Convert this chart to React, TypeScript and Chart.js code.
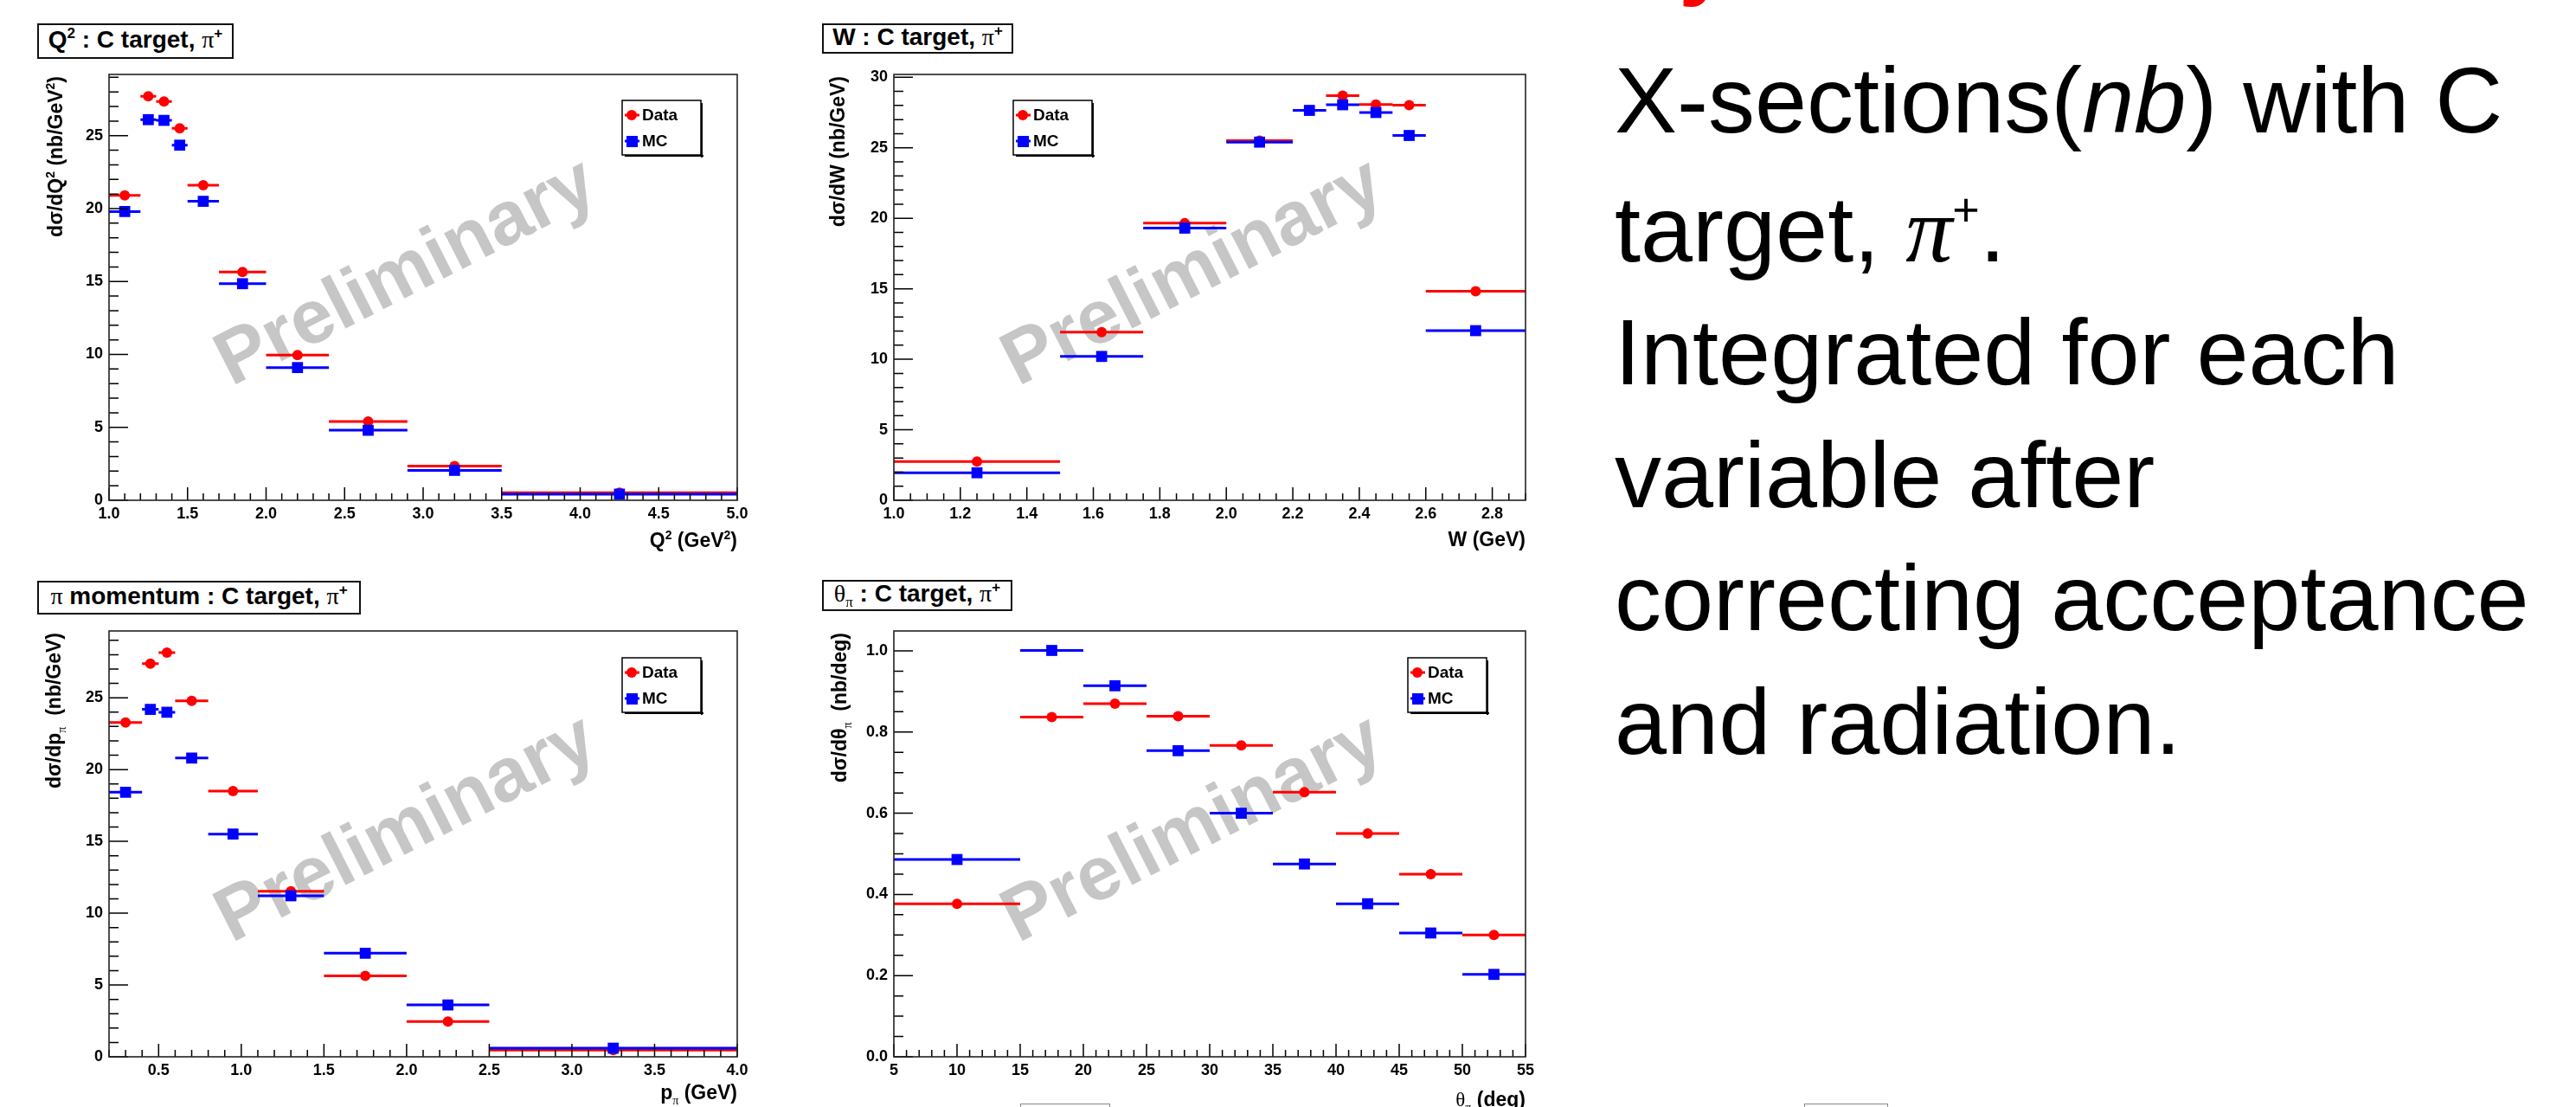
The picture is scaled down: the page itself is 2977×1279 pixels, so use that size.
import React, { useEffect, useRef } from "react";
import { Chart, registerables } from "chart.js";

Chart.register(...registerables);

const SANS = "'Liberation Sans', Arial, Helvetica, sans-serif";
const SERIF = "'Liberation Serif', 'Times New Roman', Times, serif";
const RED = "#ff0000";
const BLUE = "#0000ff";

// ---------------- data ----------------
const seriesNames = ["Data", "MC"];

const q2Edges = [1.0, 1.2, 1.3, 1.4, 1.5, 1.7, 2.0, 2.4, 2.9, 3.5, 5.0];
const q2Data = [20.9, 27.7, 27.35, 25.5, 21.6, 15.65, 9.95, 5.4, 2.35, 0.52];
const q2MC = [19.8, 26.1, 26.05, 24.35, 20.5, 14.85, 9.1, 4.8, 2.05, 0.42];

const wEdges = [1.0, 1.5, 1.75, 2.0, 2.2, 2.3, 2.4, 2.5, 2.6, 2.9];
const wData = [2.75, 11.93, 19.65, 25.5, 27.65, 28.7, 28.07, 28.02, 14.82];
const wMC = [1.95, 10.2, 19.3, 25.4, 27.65, 28.05, 27.5, 25.87, 12.03];

const pEdges = [0.2, 0.4, 0.5, 0.6, 0.8, 1.1, 1.5, 2.0, 2.5, 4.0];
const pData = [23.28, 27.38, 28.14, 24.78, 18.5, 11.53, 5.64, 2.45, 0.47];
const pMC = [18.42, 24.19, 23.99, 20.8, 15.51, 11.21, 7.21, 3.61, 0.6];

const thEdges = [5, 15, 20, 25, 30, 35, 40, 45, 50, 55];
const thData = [0.377, 0.837, 0.87, 0.839, 0.767, 0.652, 0.55, 0.45, 0.3];
const thMC = [0.486, 1.001, 0.914, 0.754, 0.6, 0.475, 0.377, 0.305, 0.203];

// axis ranges / tick steps
const q2XAxis = { min: 1.0, max: 5.0, major: 0.5, minor: 0.1, dec: 1 };
const q2YAxis = { min: 0, max: 29.2, major: 5, minor: 1, dec: 0 };
const wXAxis = { min: 1.0, max: 2.9, major: 0.2, minor: 0.05, dec: 1 };
const wYAxis = { min: 0, max: 30.2, major: 5, minor: 1, dec: 0 };
const pXAxis = { min: 0.2, max: 4.0, major: 0.5, minor: 0.1, dec: 1 };
const pYAxis = { min: 0, max: 29.65, major: 5, minor: 1, dec: 0 };
const thXAxis = { min: 5, max: 55, major: 5, minor: 1, dec: 0 };
const thYAxis = { min: 0, max: 1.049, major: 0.2, minor: 0.05, dec: 1 };

type Part = { t: string; s?: "sup" | "sub"; serif?: boolean };

const panels: any[] = [
  {
    key: "q2",
    canvas: { left: 0, top: 0, w: 890, h: 640 },
    area: { left: 126, top: 86, right: 852, bottom: 578 },
    edges: q2Edges, data: q2Data, mc: q2MC, xa: q2XAxis, ya: q2YAxis,
    xTitle: [{ t: "Q" }, { t: "2", s: "sup" }, { t: " (GeV" }, { t: "2", s: "sup" }, { t: ")" }],
    yTitle: [{ t: "dσ/dQ" }, { t: "2", s: "sup" }, { t: " (nb/GeV" }, { t: "2", s: "sup" }, { t: ")" }],
    yTitleX: 64, xTitleY: 624,
    legend: { left: 719, top: 116 },
  },
  {
    key: "w",
    canvas: { left: 890, top: 0, w: 900, h: 640 },
    area: { left: 1033, top: 86, right: 1763, bottom: 578 },
    edges: wEdges, data: wData, mc: wMC, xa: wXAxis, ya: wYAxis,
    xTitle: [{ t: "W (GeV)" }],
    yTitle: [{ t: "dσ/dW (nb/GeV)" }],
    yTitleX: 968, xTitleY: 623,
    legend: { left: 1171, top: 116 },
  },
  {
    key: "p",
    canvas: { left: 0, top: 640, w: 890, h: 639 },
    area: { left: 126, top: 729, right: 852, bottom: 1221 },
    edges: pEdges, data: pData, mc: pMC, xa: pXAxis, ya: pYAxis,
    xTitle: [{ t: "p" }, { t: "π", s: "sub", serif: true }, { t: " (GeV)" }],
    yTitle: [{ t: "dσ/dp" }, { t: "π", s: "sub", serif: true }, { t: "  (nb/GeV)" }],
    yTitleX: 62, xTitleY: 1262,
    legend: { left: 719, top: 760 },
  },
  {
    key: "th",
    canvas: { left: 890, top: 640, w: 900, h: 639 },
    area: { left: 1033, top: 729, right: 1763, bottom: 1221 },
    edges: thEdges, data: thData, mc: thMC, xa: thXAxis, ya: thYAxis,
    xTitle: [{ t: "θ", serif: true }, { t: "π", s: "sub", serif: true }, { t: " (deg)" }],
    yTitle: [{ t: "dσ/dθ" }, { t: "π", s: "sub", serif: true }, { t: "  (nb/deg)" }],
    yTitleX: 970, xTitleY: 1270,
    legend: { left: 1627, top: 760 },
  },
];

// ---------------- helpers ----------------
function binSegments(edges: number[], vals: number[]) {
  const pts: any[] = [];
  vals.forEach((v, i) => {
    pts.push({ x: edges[i], y: v }, { x: edges[i + 1], y: v }, { x: edges[i + 1], y: null });
  });
  return pts;
}
function binPoints(edges: number[], vals: number[]) {
  return vals.map((v, i) => ({ x: (edges[i] + edges[i + 1]) / 2, y: v }));
}

function partFont(p: Part, size: number) {
  const sz = p.s ? Math.round(size * 0.62) : size;
  return p.serif ? `${sz}px ${SERIF}` : `bold ${sz}px ${SANS}`;
}
function measureRich(ctx: CanvasRenderingContext2D, parts: Part[], size: number) {
  let w = 0;
  for (const p of parts) {
    ctx.font = partFont(p, size);
    w += ctx.measureText(p.t).width;
  }
  return w;
}
function drawRich(ctx: CanvasRenderingContext2D, parts: Part[], size: number, x0: number, base: number) {
  let x = x0;
  ctx.textBaseline = "alphabetic";
  ctx.textAlign = "left";
  for (const p of parts) {
    ctx.font = partFont(p, size);
    const dy = p.s === "sup" ? -size * 0.42 : p.s === "sub" ? size * 0.25 : 0;
    ctx.fillText(p.t, x, base + dy);
    x += ctx.measureText(p.t).width;
  }
}

function eachTick(ax: any, fn: (v: number, major: boolean) => void) {
  const n0 = Math.ceil(ax.min / ax.minor - 1e-6);
  for (let i = n0; i * ax.minor <= ax.max + 1e-6; i++) {
    const v = i * ax.minor;
    const r = v / ax.major;
    fn(v, Math.abs(r - Math.round(r)) < 1e-6);
  }
}

function makePlugin(cfg: any) {
  const c = cfg.canvas;
  return {
    id: "rootStyle_" + cfg.key,
    beforeDatasetsDraw(chart: any) {
      const ctx: CanvasRenderingContext2D = chart.ctx;
      const ca = chart.chartArea;
      ctx.save();
      ctx.translate(ca.left + ca.width * 0.474, ca.top + ca.height * 0.468);
      ctx.rotate((-27 * Math.PI) / 180);
      ctx.font = `bold 88px ${SANS}`;
      ctx.fillStyle = "#c6c6c6";
      ctx.textAlign = "center";
      ctx.textBaseline = "middle";
      ctx.fillText("Preliminary", 0, 0);
      ctx.restore();
    },
    afterDraw(chart: any) {
      const ctx: CanvasRenderingContext2D = chart.ctx;
      const ca = chart.chartArea;
      const xs = chart.scales.x;
      const ys = chart.scales.y;
      ctx.save();
      // ticks (inward, ROOT style)
      ctx.strokeStyle = "#000";
      ctx.lineWidth = 1.5;
      ctx.beginPath();
      eachTick(cfg.xa, (v, major) => {
        const px = xs.getPixelForValue(v);
        ctx.moveTo(px, ca.bottom);
        ctx.lineTo(px, ca.bottom - (major ? 15 : 8));
      });
      eachTick(cfg.ya, (v, major) => {
        const py = ys.getPixelForValue(v);
        ctx.moveTo(ca.left, py);
        ctx.lineTo(ca.left + (major ? 22 : 11), py);
      });
      ctx.stroke();
      // frame
      ctx.strokeStyle = "#222";
      ctx.lineWidth = 1.6;
      ctx.strokeRect(ca.left, ca.top, ca.right - ca.left, ca.bottom - ca.top);

      // legend
      const lx = cfg.legend.left - c.left;
      const ly = cfg.legend.top - c.top;
      const lw = 91;
      const lh = 63;
      ctx.fillStyle = "#fff";
      ctx.fillRect(lx, ly, lw, lh);
      ctx.fillStyle = "#000";
      ctx.fillRect(lx + 3, ly + lh, lw, 2);
      ctx.fillRect(lx + lw, ly + 3, 2, lh);
      ctx.strokeStyle = "#000";
      ctx.lineWidth = 1.5;
      ctx.strokeRect(lx, ly, lw, lh);
      seriesNames.forEach((name, i) => {
        const yy = ly + 17 + i * 30;
        const col = i === 0 ? RED : BLUE;
        ctx.strokeStyle = col;
        ctx.lineWidth = 3;
        ctx.beginPath();
        ctx.moveTo(lx + 3, yy);
        ctx.lineTo(lx + 20, yy);
        ctx.stroke();
        ctx.fillStyle = col;
        if (i === 0) {
          ctx.beginPath();
          ctx.arc(lx + 11, yy, 6, 0, Math.PI * 2);
          ctx.fill();
        } else {
          ctx.fillRect(lx + 5, yy - 6, 13, 13);
        }
        ctx.fillStyle = "#000";
        ctx.font = `bold 19px ${SANS}`;
        ctx.textAlign = "left";
        ctx.textBaseline = "middle";
        ctx.fillText(name, lx + 23, yy + 1);
      });

      // axis titles
      const TS = 23;
      ctx.fillStyle = "#000";
      const xw = measureRich(ctx, cfg.xTitle, TS);
      drawRich(ctx, cfg.xTitle, TS, ca.right - xw, cfg.xTitleY - c.top + TS * 0.36);
      const yw = measureRich(ctx, cfg.yTitle, TS);
      ctx.translate(cfg.yTitleX - c.left, ca.top + 2);
      ctx.rotate(-Math.PI / 2);
      drawRich(ctx, cfg.yTitle, TS, -yw, TS * 0.36);
      ctx.restore();
    },
  };
}

function Panel({ cfg }: { cfg: any }) {
  const ref = useRef<HTMLCanvasElement | null>(null);
  const c = cfg.canvas;
  useEffect(() => {
    const rel = {
      left: cfg.area.left - c.left,
      top: cfg.area.top - c.top,
      right: cfg.area.right - c.left,
      bottom: cfg.area.bottom - c.top,
    };
    const tickFont = { family: SANS, size: 18, weight: "bold" as const };
    const chart = new Chart(ref.current as HTMLCanvasElement, {
      type: "line",
      data: {
        datasets: [
          {
            label: seriesNames[1],
            data: binPoints(cfg.edges, cfg.mc),
            showLine: false,
            pointStyle: "rect",
            pointRadius: 9,
            backgroundColor: BLUE,
            borderColor: BLUE,
            borderWidth: 0,
            order: 0,
          },
          {
            label: seriesNames[1] + " bins",
            data: binSegments(cfg.edges, cfg.mc),
            borderColor: BLUE,
            borderWidth: 3,
            pointRadius: 0,
            fill: false,
            spanGaps: false,
            order: 1,
          },
          {
            label: seriesNames[0],
            data: binPoints(cfg.edges, cfg.data),
            showLine: false,
            pointStyle: "circle",
            pointRadius: 6,
            backgroundColor: RED,
            borderColor: RED,
            borderWidth: 0,
            order: 2,
          },
          {
            label: seriesNames[0] + " bins",
            data: binSegments(cfg.edges, cfg.data),
            borderColor: RED,
            borderWidth: 3,
            pointRadius: 0,
            fill: false,
            spanGaps: false,
            order: 3,
          },
        ] as any,
      },
      options: {
        responsive: false,
        animation: false,
        devicePixelRatio: 1,
        events: [],
        layout: { padding: { left: 0, top: rel.top, right: c.w - rel.right, bottom: 0 } },
        plugins: { legend: { display: false }, tooltip: { enabled: false }, title: { display: false } },
        scales: {
          x: {
            type: "linear",
            min: cfg.xa.min,
            max: cfg.xa.max,
            grid: { display: false, drawTicks: false },
            border: { display: false },
            ticks: {
              stepSize: cfg.xa.major,
              autoSkip: false,
              maxRotation: 0,
              minRotation: 0,
              includeBounds: false,
              padding: 5,
              color: "#000",
              font: tickFont,
              callback: (v: any) => Number(v).toFixed(cfg.xa.dec),
            },
            afterFit: (s: any) => {
              s.height = c.h - rel.bottom;
            },
          },
          y: {
            type: "linear",
            min: cfg.ya.min,
            max: cfg.ya.max,
            grid: { display: false, drawTicks: false },
            border: { display: false },
            ticks: {
              stepSize: cfg.ya.major,
              autoSkip: false,
              includeBounds: false,
              padding: 7,
              color: "#000",
              font: tickFont,
              callback: (v: any) => Number(v).toFixed(cfg.ya.dec),
            },
            afterFit: (s: any) => {
              s.width = rel.left;
            },
          },
        } as any,
      },
      plugins: [makePlugin(cfg)],
    });
    return () => chart.destroy();
  }, []);
  return (
    <canvas
      ref={ref}
      width={c.w}
      height={c.h}
      style={{ position: "absolute", left: c.left, top: c.top, width: c.w, height: c.h }}
    />
  );
}

const supS: React.CSSProperties = { fontSize: 17, position: "relative", top: -11 };
const subS: React.CSSProperties = { fontSize: 17, position: "relative", top: 6, fontFamily: SERIF, fontWeight: "normal" };
const piS: React.CSSProperties = { fontFamily: SERIF, fontWeight: "normal" };

function TitleBox({ left, top, w, h, children }: any) {
  return (
    <div
      style={{
        position: "absolute",
        left,
        top,
        width: w,
        height: h,
        border: "2px solid #111",
        boxSizing: "border-box",
        background: "#fff",
        display: "flex",
        alignItems: "center",
        justifyContent: "center",
        font: `bold 28px ${SANS}`,
        color: "#000",
        whiteSpace: "pre",
        lineHeight: "28px",
      }}
    >
      <span>{children}</span>
    </div>
  );
}

const lineStyle = (top: number): React.CSSProperties => ({
  position: "absolute",
  left: 1866,
  top,
  font: `108px ${SANS}`,
  lineHeight: "108px",
  color: "#000",
  whiteSpace: "nowrap",
});

export default function App() {
  return (
    <div
      style={{
        position: "absolute",
        left: 0,
        top: 0,
        width: 2977,
        height: 1279,
        overflow: "hidden",
        background: "#fff",
      }}
    >
      {panels.map((p) => (
        <Panel key={p.key} cfg={p} />
      ))}

      <TitleBox left={43} top={27} w={227} h={41}>
        Q<span style={supS}>2</span>{" : C target, "}<span style={piS}>π</span><span style={supS}>+</span>
      </TitleBox>
      <TitleBox left={950} top={27} w={221} h={35}>
        {"W : C target, "}<span style={piS}>π</span><span style={supS}>+</span>
      </TitleBox>
      <TitleBox left={43} top={671} w={374} h={39}>
        <span style={piS}>π</span>{" momentum : C target, "}<span style={piS}>π</span><span style={supS}>+</span>
      </TitleBox>
      <TitleBox left={950} top={670} w={220} h={36}>
        <span style={piS}>θ</span><span style={subS}>π</span>{" : C target, "}<span style={piS}>π</span><span style={supS}>+</span>
      </TitleBox>

      {/* fragment of the slide title above */}
      <div
        style={{
          position: "absolute",
          left: 1940,
          top: -105,
          font: `bold 108px ${SANS}`,
          lineHeight: "108px",
          color: RED,
        }}
      >
        y
      </div>

      <div style={lineStyle(62)}>
        X-sections(<i>nb</i>) with C
      </div>
      <div style={lineStyle(211)}>
        target, <span style={{ fontFamily: SERIF, fontStyle: "italic" }}>π</span>
        <span style={{ fontSize: 54, position: "relative", top: -41 }}>+</span>.
      </div>
      <div style={lineStyle(353)}>Integrated for each</div>
      <div style={lineStyle(495)}>variable after</div>
      <div style={lineStyle(637)}>correcting acceptance</div>
      <div style={lineStyle(780)}>and radiation.</div>

      <div
        style={{
          position: "absolute",
          left: 1179,
          top: 1275,
          width: 102,
          height: 30,
          border: "1.5px solid #888",
        }}
      />
      <div
        style={{
          position: "absolute",
          left: 2085,
          top: 1275,
          width: 95,
          height: 30,
          border: "1.5px solid #888",
        }}
      />
    </div>
  );
}
